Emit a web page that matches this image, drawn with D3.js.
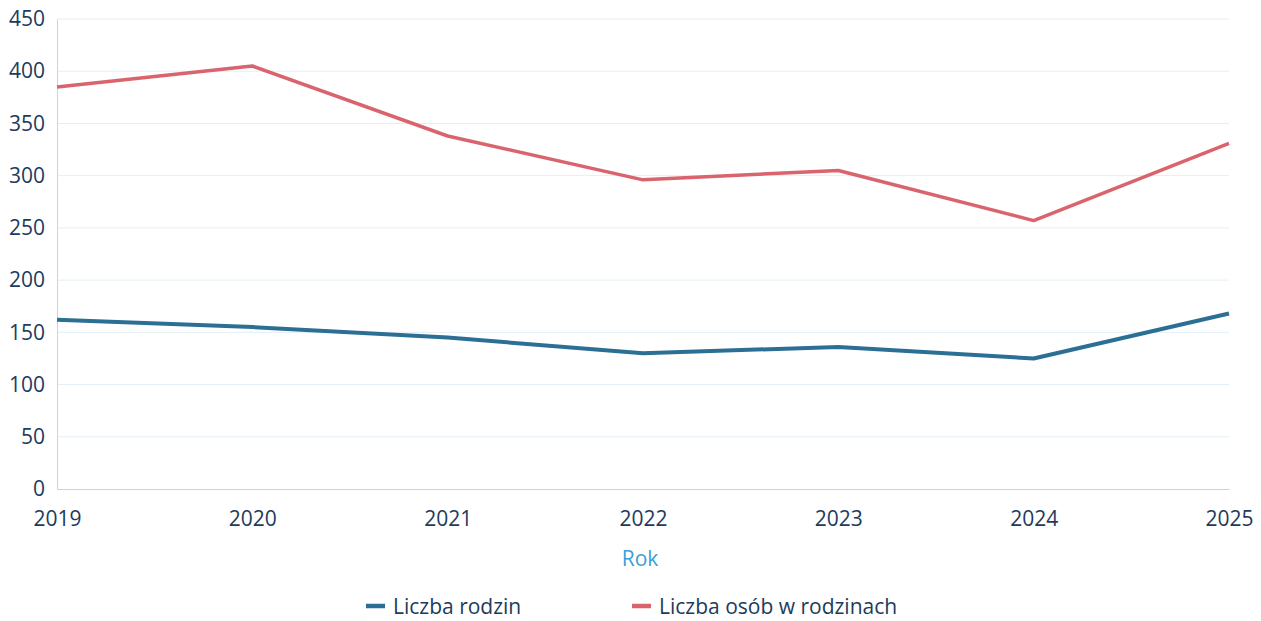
<!DOCTYPE html>
<html><head><meta charset="utf-8">
<script src="https://cdn.jsdelivr.net/npm/d3@7"></script>
<style>body{margin:0;background:#fff;font-family:"Open Sans",sans-serif;}</style>
</head><body><svg id="c" width="1261" height="621"></svg>
<script>
const years = [2019, 2020, 2021, 2022, 2023, 2024, 2025];
const rodziny = [162, 155, 145, 130, 136, 125, 168];
const osoby = [385, 405, 338, 296, 305, 257, 331];
const yTicks = [0, 50, 100, 150, 200, 250, 300, 350, 400, 450];
const seriesNames = ["Liczba rodzin", "Liczba osób w rodzinach"];
const colors = ["#2b6f94", "#d9646d"];

const svg = d3.select("#c");
const m = {l:57, r:1229, t:19, b:489};
const x = d3.scaleLinear().domain([2019, 2025]).range([m.l, m.r]);
const y = d3.scaleLinear().domain([0, 450]).range([m.b, m.t]);
const text = "#1d3b5c";

// grid
svg.append("g").selectAll("line").data(yTicks.filter(d=>d>0)).join("line")
  .attr("x1", m.l).attr("x2", m.r).attr("y1", d=>y(d)).attr("y2", d=>y(d))
  .attr("stroke", "#e2eff6").attr("stroke-width", 1);

// axes
const yAxis = d3.axisLeft(y).tickValues(yTicks).tickSize(0).tickPadding(12);
const gy = svg.append("g").attr("transform", `translate(${m.l},0)`).call(yAxis);
gy.select(".domain").attr("stroke", "#b5dbee");
gy.selectAll("text").attr("fill", text).style("font-size", "21px").style("font-family", "Open Sans");

const xAxis = d3.axisBottom(x).tickValues(years).tickFormat(d3.format("d")).tickSize(0).tickPadding(22);
const gx = svg.append("g").attr("transform", `translate(0,${m.b})`).call(xAxis);
gx.select(".domain").attr("stroke", "#b5dbee");
gx.selectAll("text").attr("fill", text).style("font-size", "21px").style("font-family", "Open Sans");

svg.append("text").attr("x", 640).attr("y", 566).attr("text-anchor", "middle")
  .attr("fill", "#3a9fd8").style("font-size", "21px").text("Rok");

const line = d3.line().x((d,i)=>x(years[i])).y(d=>y(d));
[rodziny, osoby].forEach((s,i)=>{
  svg.append("path").datum(s).attr("d", line).attr("fill","none")
    .attr("stroke", colors[i]).attr("stroke-width", i===0?4:3.5).attr("stroke-linejoin","round");
});

// legend
const lg = [{x:366, tx:393}, {x:632, tx:659}];
seriesNames.forEach((n,i)=>{
  svg.append("line").attr("x1", lg[i].x).attr("x2", lg[i].x+19).attr("y1", 606).attr("y2", 606)
    .attr("stroke", colors[i]).attr("stroke-width", 4.5);
  svg.append("text").attr("x", lg[i].tx).attr("y", 614).attr("fill", text)
    .style("font-size", "21px").text(n);
});
</script></body></html>
